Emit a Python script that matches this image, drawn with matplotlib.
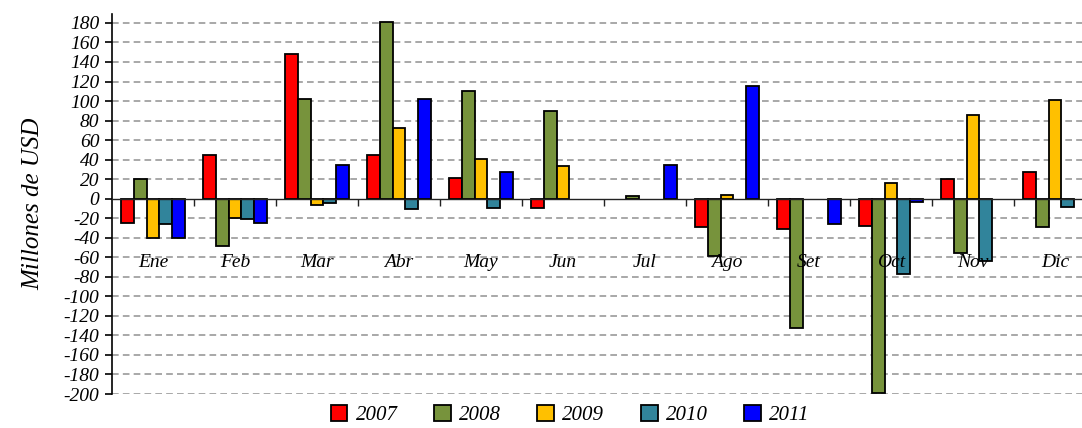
import numpy as np
import matplotlib.pyplot as plt
from matplotlib.patches import Patch

# Data (millones de USD); nan = no bar drawn
nan = np.nan
months = ['Ene', 'Feb', 'Mar', 'Abr', 'May', 'Jun', 'Jul', 'Ago', 'Set', 'Oct', 'Nov', 'Dic']
years = ['2007', '2008', '2009', '2010', '2011']
v2007 = [-25, 45, 148, 45, 21, -10, nan, -29, -31, -28, 20, 27]
v2008 = [20, -48, 102, 181, 110, 90, 3, -59, -132, -199, -56, -29]
v2009 = [-40, -20, -6, 72, 41, 33, nan, 4, nan, 16, 86, 101]
v2010 = [-26, -21, -4, -11, -10, nan, nan, nan, nan, -77, -64, -8]
v2011 = [-40, -25, 34, 102, 27, nan, 34, 115, -26, -3, nan, nan]
series = [v2007, v2008, v2009, v2010, v2011]
colors = ['#FF0000', '#77933C', '#FFC000', '#31849B', '#0000FF']

serif = ['Liberation Serif', 'DejaVu Serif']

fig = plt.figure(figsize=(10.82, 4.28), dpi=100)
ax = fig.add_axes([0.1035, 0.0794, 0.8965, 0.8876])

x = np.arange(len(months))
w = 0.154
for i, (vals, c) in enumerate(zip(series, colors)):
    ax.bar(x + (i - 2) * w, vals, width=w, color=c, edgecolor='black',
           linewidth=1.3, zorder=3)

ax.set_xlim(-0.5, 11.33)
ax.set_ylim(-200, 189)
ax.set_yticks(np.arange(-200, 181, 20))
ax.set_yticklabels([str(v) for v in range(-200, 181, 20)],
                   family=serif, style='italic', fontsize=14)
for v in range(-200, 181, 20):
    if v != 0:
        ax.axhline(v, color='#999999', linestyle=(0, (4, 2.5)), linewidth=1.2, zorder=1)

# zero line carries the month boundary ticks
ax.spines['bottom'].set_position(('data', 0))
ax.spines['bottom'].set_color('#222222')
ax.spines['bottom'].set_linewidth(1.0)
ax.spines['bottom'].set_zorder(4)
ax.spines['top'].set_visible(False)
ax.spines['right'].set_visible(False)
ax.spines['left'].set_linewidth(1.2)
ax.set_xticks(np.arange(0.5, 11.5, 1))
ax.set_xticklabels([])
ax.tick_params(axis='x', direction='out', length=5, width=1, color='#222222')
ax.tick_params(axis='y', direction='out', length=5, width=1.2, pad=4)

for xi, m in zip(x, months):
    ax.text(xi, -65, m, ha='center', va='center', family=serif,
            style='italic', fontsize=14, zorder=5)

ax.set_ylabel('Millones de USD', family=serif, style='italic', fontsize=18, labelpad=14)

handles = [Patch(facecolor=c, edgecolor='black', linewidth=1.3) for c in colors]
fig.legend(handles, years, loc='center', bbox_to_anchor=(0.527, 0.03), ncol=5,
           frameon=False, handlelength=0.8, handleheight=0.8, handletextpad=0.4,
           columnspacing=1.75, borderpad=0.2,
           prop={'family': serif, 'style': 'italic', 'size': 15})

fig.savefig('out.png', dpi=100)
